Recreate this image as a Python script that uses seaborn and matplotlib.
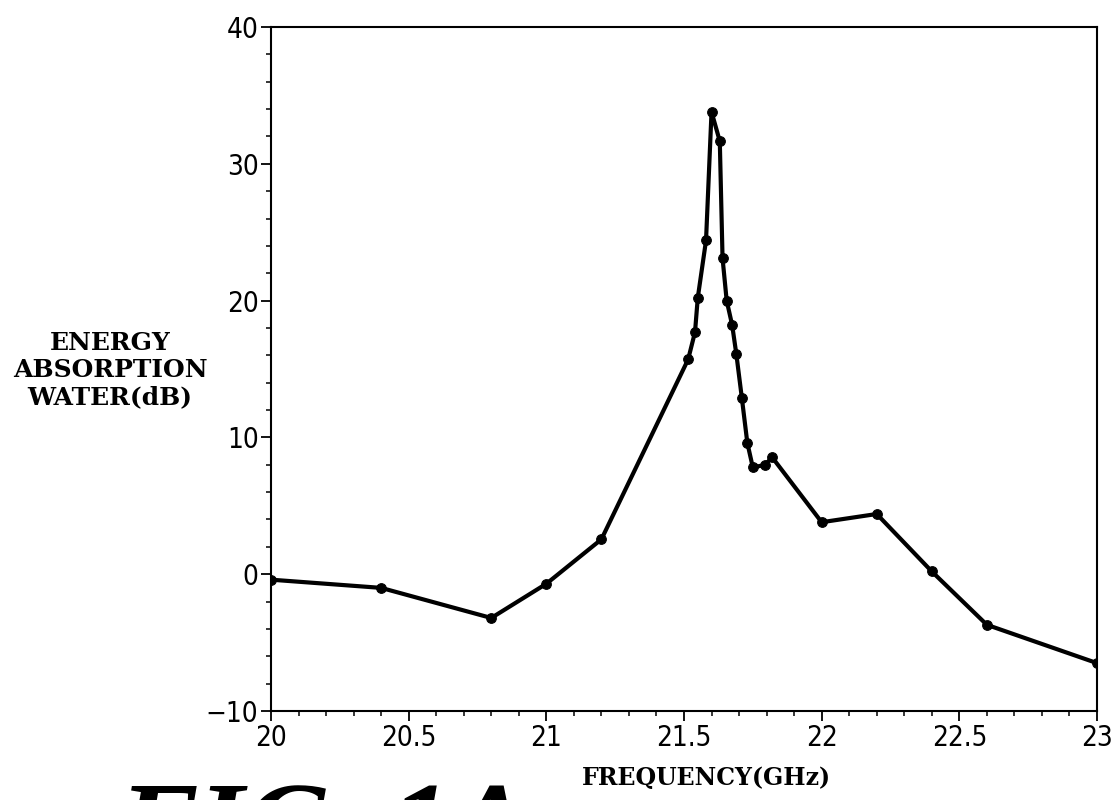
import matplotlib
matplotlib.use("Agg")
import matplotlib.pyplot as plt
import seaborn as sns
import pandas as pd
from matplotlib.ticker import MultipleLocator

# Data
freq_ghz = [20.0, 20.4, 20.8, 21.0, 21.2, 21.515, 21.54, 21.55, 21.58, 21.60,
            21.63, 21.64, 21.655, 21.675, 21.69, 21.71, 21.73, 21.75, 21.795,
            21.82, 22.0, 22.2, 22.4, 22.6, 23.0]
absorption_db = [-0.4, -1.0, -3.2, -0.7, 2.55, 15.7, 17.7, 20.2, 24.4, 33.8,
                 31.65, 23.1, 20.0, 18.2, 16.1, 12.9, 9.6, 7.8, 8.0,
                 8.55, 3.8, 4.4, 0.2, -3.7, -6.5]
x_ticks = [20, 20.5, 21, 21.5, 22, 22.5, 23]
x_tick_labels = ["20", "20.5", "21", "21.5", "22", "22.5", "23"]
y_ticks = [-10, 0, 10, 20, 30, 40]
y_tick_labels = ["\u221210", "0", "10", "20", "30", "40"]

df = pd.DataFrame({"freq": freq_ghz, "absorption": absorption_db})

sns.set_style("ticks")
plt.rcParams["font.family"] = ["DejaVu Sans"]
plt.rcParams["text.color"] = "black"
plt.rcParams["xtick.color"] = "black"
plt.rcParams["ytick.color"] = "black"
plt.rcParams["axes.labelcolor"] = "black"

fig = plt.figure(figsize=(11.17, 8), dpi=100)
ax = fig.add_axes([271 / 1117, 1 - 711 / 800, (1097 - 271) / 1117, (711 - 27) / 800])

sns.lineplot(data=df, x="freq", y="absorption", sort=False, estimator=None,
             color="black", linewidth=3.0, marker="o", markersize=7,
             markeredgecolor="black", markerfacecolor="black", ax=ax)

ax.set_xlim(20, 23)
ax.set_ylim(-10, 40)
ax.set_xticks(x_ticks)
ax.set_xticklabels(x_tick_labels)
ax.set_yticks(y_ticks)
ax.set_yticklabels(y_tick_labels)
ax.xaxis.set_minor_locator(MultipleLocator(0.1))
ax.yaxis.set_minor_locator(MultipleLocator(2))

for lbl in ax.get_xticklabels() + ax.get_yticklabels():
    lbl.set_family(["DejaVu Sans"])
    lbl.set_fontstretch("condensed")
    lbl.set_fontsize(20)
    lbl.set_color("black")

ax.tick_params(axis="both", which="major", direction="out", length=7, width=1.3,
               color="black", pad=2)
ax.tick_params(axis="both", which="minor", direction="out", length=3.5, width=1.1,
               color="black")
ax.tick_params(top=False, right=False, which="both")

for side, sp in ax.spines.items():
    sp.set_visible(True)
    sp.set_color("black")
    sp.set_linewidth(1.5)

ax.set_xlabel("")
ax.set_ylabel("")

fig.text(706 / 1117, 1 - 778 / 800, "FREQUENCY(GHz)", ha="center", va="center",
         fontsize=17, fontweight="bold", family=["DejaVu Serif"], color="black")
fig.text(110 / 1117, 1 - 370 / 800, "ENERGY\nABSORPTION\nWATER(dB)", ha="center",
         va="center", fontsize=18, fontweight="bold", family=["DejaVu Serif"],
         linespacing=1.15, color="black")
fig.text(118 / 1117, 1 - 782 / 800, "FIG. 1A", ha="left", va="top",
         fontsize=86, fontweight="bold", fontstyle="italic",
         family=["Liberation Serif", "DejaVu Serif"], color="black")

fig.savefig("out.png", dpi=100)
